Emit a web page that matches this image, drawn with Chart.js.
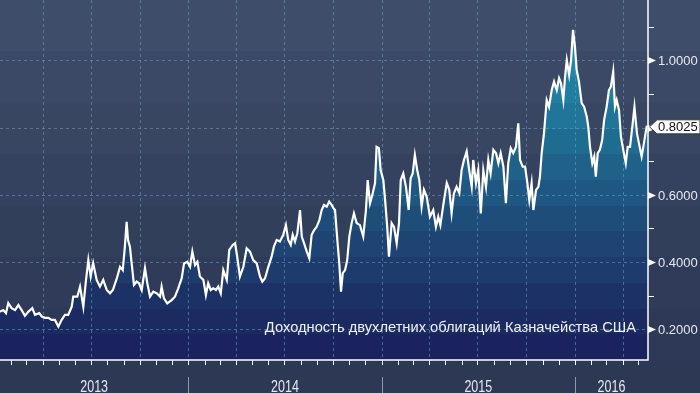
<!DOCTYPE html>
<html>
<head>
<meta charset="utf-8">
<script src="https://cdn.jsdelivr.net/npm/chart.js@4.4.1/dist/chart.umd.min.js"></script>
<style>
html, body { margin: 0; padding: 0; background: #2c3854; }
#wrap { position: relative; width: 700px; height: 393px; }
</style>
</head>
<body>
<div id="wrap"><canvas id="chart"></canvas></div>
<script>
// dates as decimal years, yields in %
const dates = [
  2013.026, 2013.043, 2013.057, 2013.069, 2013.086, 2013.104, 2013.121, 2013.138, 2013.155, 2013.172,
  2013.193, 2013.207, 2013.229, 2013.242, 2013.259, 2013.276, 2013.293, 2013.310, 2013.328, 2013.345,
  2013.362, 2013.379, 2013.397, 2013.405, 2013.426, 2013.440, 2013.457, 2013.471, 2013.483, 2013.495,
  2013.508, 2013.526, 2013.543, 2013.560, 2013.578, 2013.595, 2013.610, 2013.631, 2013.647, 2013.661,
  2013.672, 2013.681, 2013.688, 2013.698, 2013.707, 2013.719, 2013.733, 2013.745, 2013.759, 2013.776,
  2013.788, 2013.802, 2013.819, 2013.837, 2013.854, 2013.862, 2013.874, 2013.891, 2013.914, 2013.931,
  2013.948, 2013.966, 2013.978, 2013.995, 2014.009, 2014.021, 2014.035, 2014.047, 2014.060, 2014.078,
  2014.091, 2014.103, 2014.116, 2014.129, 2014.143, 2014.155, 2014.168, 2014.181, 2014.199, 2014.212,
  2014.230, 2014.242, 2014.253, 2014.267, 2014.285, 2014.302, 2014.319, 2014.336, 2014.354, 2014.371,
  2014.383, 2014.397, 2014.414, 2014.431, 2014.443, 2014.457, 2014.474, 2014.491, 2014.505, 2014.517,
  2014.530, 2014.540, 2014.552, 2014.564, 2014.578, 2014.587, 2014.599, 2014.613, 2014.626, 2014.638,
  2014.652, 2014.664, 2014.678, 2014.690, 2014.702, 2014.716, 2014.729, 2014.742, 2014.750, 2014.759,
  2014.771, 2014.781, 2014.790, 2014.799, 2014.811, 2014.822, 2014.833, 2014.845, 2014.857, 2014.871,
  2014.888, 2014.905, 2014.919, 2014.928, 2014.940, 2014.952, 2014.966, 2014.974, 2014.986, 2014.995,
  2015.009, 2015.018, 2015.029, 2015.038, 2015.052, 2015.064, 2015.078, 2015.090, 2015.099, 2015.112,
  2015.126, 2015.140, 2015.150, 2015.161, 2015.172, 2015.184, 2015.195, 2015.207, 2015.219, 2015.233,
  2015.250, 2015.267, 2015.281, 2015.293, 2015.304, 2015.323, 2015.337, 2015.350, 2015.362, 2015.374,
  2015.388, 2015.402, 2015.414, 2015.426, 2015.440, 2015.453, 2015.466, 2015.474, 2015.488, 2015.500,
  2015.513, 2015.526, 2015.540, 2015.552, 2015.564, 2015.578, 2015.592, 2015.604, 2015.616, 2015.630,
  2015.643, 2015.655, 2015.668, 2015.681, 2015.695, 2015.707, 2015.716, 2015.730, 2015.742, 2015.754,
  2015.764, 2015.776, 2015.785, 2015.799, 2015.811, 2015.819, 2015.828, 2015.840, 2015.854, 2015.866,
  2015.880, 2015.892, 2015.906, 2015.918, 2015.928, 2015.940, 2015.949, 2015.958, 2015.970, 2015.980,
  2015.990, 2016.000, 2016.009, 2016.021, 2016.035, 2016.048, 2016.061, 2016.069, 2016.078, 2016.090,
  2016.100, 2016.108, 2016.118, 2016.129, 2016.141, 2016.151, 2016.164, 2016.176, 2016.186, 2016.198,
  2016.207, 2016.216, 2016.228, 2016.238, 2016.250, 2016.263, 2016.273, 2016.285, 2016.297, 2016.308,
  2016.321, 2016.331, 2016.345, 2016.357, 2016.371, 2016.378
];
const yields = [
  0.252, 0.257, 0.248, 0.278, 0.263, 0.257, 0.272, 0.257, 0.240, 0.252,
  0.263, 0.243, 0.248, 0.238, 0.234, 0.234, 0.228, 0.228, 0.208, 0.228,
  0.243, 0.243, 0.267, 0.297, 0.297, 0.327, 0.267, 0.347, 0.406, 0.357,
  0.397, 0.347, 0.327, 0.347, 0.317, 0.307, 0.317, 0.353, 0.386, 0.376,
  0.446, 0.520, 0.466, 0.446, 0.396, 0.332, 0.342, 0.337, 0.317, 0.382,
  0.337, 0.297, 0.312, 0.307, 0.297, 0.327, 0.292, 0.277, 0.287, 0.297,
  0.322, 0.352, 0.396, 0.401, 0.386, 0.431, 0.391, 0.401, 0.357, 0.347,
  0.302, 0.337, 0.317, 0.322, 0.317, 0.327, 0.307, 0.376, 0.347, 0.436,
  0.451, 0.456, 0.416, 0.357, 0.386, 0.441, 0.431, 0.406, 0.396, 0.357,
  0.342, 0.352, 0.386, 0.416, 0.446, 0.466, 0.461, 0.481, 0.510, 0.466,
  0.451, 0.481, 0.461, 0.486, 0.555, 0.476, 0.456, 0.431, 0.411, 0.481,
  0.496, 0.505, 0.525, 0.555, 0.570, 0.565, 0.580, 0.570, 0.561, 0.555,
  0.466, 0.396, 0.312, 0.367, 0.376, 0.406, 0.476, 0.516, 0.545, 0.516,
  0.510, 0.476, 0.555, 0.644, 0.575, 0.600, 0.635, 0.743, 0.739, 0.674,
  0.644, 0.585, 0.505, 0.416, 0.516, 0.505, 0.456, 0.516, 0.644, 0.664,
  0.624, 0.555, 0.649, 0.664, 0.719, 0.674, 0.644, 0.565, 0.615, 0.595,
  0.535, 0.555, 0.505, 0.535, 0.510, 0.585, 0.635, 0.615, 0.545, 0.605,
  0.624, 0.605, 0.674, 0.704, 0.729, 0.674, 0.624, 0.704, 0.635, 0.674,
  0.545, 0.674, 0.624, 0.704, 0.664, 0.734, 0.724, 0.694, 0.724, 0.684,
  0.575, 0.694, 0.739, 0.724, 0.743, 0.813, 0.704, 0.684, 0.684, 0.635,
  0.585, 0.635, 0.555, 0.615, 0.624, 0.654, 0.724, 0.783, 0.882, 0.862,
  0.912, 0.937, 0.912, 0.947, 0.932, 0.882, 0.952, 1.001, 0.957, 1.001,
  1.091, 1.041, 0.972, 0.937, 0.873, 0.862, 0.833, 0.803, 0.743, 0.694,
  0.714, 0.654, 0.724, 0.734, 0.763, 0.823, 0.862, 0.912, 0.922, 0.967,
  0.862, 0.882, 0.853, 0.773, 0.734, 0.694, 0.743, 0.743, 0.803, 0.862,
  0.783, 0.754, 0.714, 0.754, 0.803, 0.8025
];
const yTicks = [0.2, 0.3, 0.4, 0.5, 0.6, 0.7, 0.8, 0.9, 1.0, 1.1];
const yLabels = ['0.2000', '', '0.4000', '', '0.6000', '', '0.8000', '', '1.0000', ''];
const years = ['2013', '2014', '2015', '2016'];
const yearStarts = [2013, 2014, 2015, 2016, 2017];
const quarterDays = [0, 90, 181, 273];
const monthDays = [0, 31, 59, 90, 120, 151, 181, 212, 243, 273, 304, 334];
const seriesTitle = 'Доходность двухлетних облигаций Казначейства США';
const lastLabel = '0.8025';

// styles
const FONT = "'Liberation Sans', Arial, sans-serif";
const bgBands = ['#3e4d69', '#3b4966', '#384662', '#35425f', '#323f5b', '#2f3b58', '#2d3956'];
const fillBands = ['#2395b0', '#2290ad', '#2188a7', '#207fa0', '#207598', '#1f6c91', '#1f6189',
                   '#1e5782', '#1e4d7a', '#1d4473', '#1d3b6c', '#1c3267', '#1c2a62', '#1b235e'];
const gridColor = 'rgba(105,160,190,0.55)';

function bandGradient(ctx, area, colors) {
  const g = ctx.createLinearGradient(0, area.top, 0, area.bottom);
  const n = colors.length;
  colors.forEach((c, i) => {
    g.addColorStop(i / n, c);
    g.addColorStop(Math.min(1, (i + 1) / n - 0.0001), c);
  });
  return g;
}

const points = dates.map((d, i) => ({ x: d, y: yields[i] }));

const decor = {
  id: 'decor',
  beforeDraw(chart) {
    const { ctx, chartArea: a, width, height } = chart;
    ctx.save();
    const h = (a.bottom - a.top) / bgBands.length;
    bgBands.forEach((c, i) => {
      ctx.fillStyle = c;
      ctx.fillRect(0, a.top + i * h, width, h + 1);
    });
    ctx.fillStyle = '#2c3854';
    ctx.fillRect(0, a.bottom, width, height - a.bottom);
    ctx.restore();
  },
  afterDatasetDraw(chart, args) {
    if (args.index !== 0) return;
    const { ctx, chartArea: a, scales: { x, y } } = chart;
    ctx.save();
    ctx.strokeStyle = gridColor;
    ctx.lineWidth = 1;
    ctx.setLineDash([3, 3]);
    yTicks.forEach((v, i) => {
      if (!yLabels[i]) return;
      const py = Math.round(y.getPixelForValue(v)) + 0.5;
      ctx.beginPath(); ctx.moveTo(a.left, py); ctx.lineTo(a.right, py); ctx.stroke();
    });
    yearStarts.forEach(yr => {
      quarterDays.forEach(d => {
        const v = yr + d / 365;
        if (v <= x.min || v >= x.max) return;
        const px = Math.round(x.getPixelForValue(v)) + 0.5;
        ctx.beginPath(); ctx.moveTo(px, a.top); ctx.lineTo(px, a.bottom); ctx.stroke();
      });
    });
    ctx.restore();
  },
  afterDraw(chart) {
    const { ctx, chartArea: a, scales: { x, y }, width } = chart;
    ctx.save();
    // axis lines
    ctx.strokeStyle = '#ffffff';
    ctx.lineWidth = 1.5;
    ctx.beginPath();
    ctx.moveTo(a.right, a.top); ctx.lineTo(a.right, a.bottom + 0.75);
    ctx.moveTo(a.left, a.bottom); ctx.lineTo(a.right, a.bottom);
    ctx.stroke();

    // month ticks
    ctx.lineWidth = 1;
    yearStarts.forEach(yr => {
      monthDays.forEach(d => {
        const v = yr + d / 365;
        if (v <= x.min || v >= x.max) return;
        const px = Math.round(x.getPixelForValue(v)) + 0.5;
        ctx.beginPath(); ctx.moveTo(px, a.bottom); ctx.lineTo(px, a.bottom + 5); ctx.stroke();
      });
    });

    // y ticks and labels
    ctx.fillStyle = '#ffffff';
    ctx.font = '13px ' + FONT;
    ctx.textBaseline = 'middle';
    ctx.textAlign = 'left';
    yTicks.forEach((v, i) => {
      const py = Math.round(y.getPixelForValue(v)) + 0.5;
      if (yLabels[i]) {
        ctx.beginPath();
        ctx.moveTo(a.right, py - 3.5); ctx.lineTo(a.right + 8, py); ctx.lineTo(a.right, py + 3.5);
        ctx.closePath(); ctx.fill();
        ctx.fillStyle = '#e6e9ef';
        ctx.fillText(yLabels[i], a.right + 10, py + 1);
        ctx.fillStyle = '#ffffff';
      } else {
        ctx.beginPath(); ctx.moveTo(a.right, py); ctx.lineTo(a.right + 6, py); ctx.stroke();
      }
    });

    // year separators and labels
    ctx.strokeStyle = '#8e96a8';
    ctx.lineWidth = 1;
    yearStarts.forEach(v => {
      if (v <= x.min || v >= x.max) return;
      const px = Math.round(x.getPixelForValue(v)) + 0.5;
      ctx.beginPath(); ctx.moveTo(px, a.bottom + 17); ctx.lineTo(px, chart.height); ctx.stroke();
    });
    ctx.fillStyle = '#e6e9ef';
    ctx.font = '16px ' + FONT;
    ctx.textAlign = 'center';
    ctx.textBaseline = 'alphabetic';
    years.forEach((lab, i) => {
      const s = Math.max(yearStarts[i], x.min), e = Math.min(yearStarts[i + 1], x.max);
      const cx = (x.getPixelForValue(s) + x.getPixelForValue(e)) / 2;
      ctx.save();
      ctx.translate(cx, a.bottom + 32);
      ctx.scale(0.78, 1);
      ctx.fillText(lab, 0, 0);
      ctx.restore();
    });

    // series title
    ctx.font = '14.7px ' + FONT;
    ctx.textAlign = 'right';
    ctx.fillStyle = '#eef0f4';
    ctx.fillText(seriesTitle, a.right - 12, y.getPixelForValue(0.2) + 3);

    // last value marker
    const ly = y.getPixelForValue(yields[yields.length - 1]);
    ctx.beginPath();
    ctx.moveTo(a.right + 1.5, ly);
    ctx.lineTo(a.right + 9, ly - 7);
    ctx.lineTo(width, ly - 7);
    ctx.lineTo(width, ly + 7);
    ctx.lineTo(a.right + 9, ly + 7);
    ctx.closePath();
    ctx.fillStyle = '#ffffff';
    ctx.fill();
    ctx.strokeStyle = '#3a3a3a';
    ctx.lineWidth = 1;
    ctx.stroke();
    ctx.fillStyle = '#111111';
    ctx.font = '13px ' + FONT;
    ctx.textAlign = 'left';
    ctx.textBaseline = 'middle';
    ctx.fillText(lastLabel, a.right + 10, ly + 1);
    ctx.restore();
  }
};

new Chart(document.getElementById('chart'), {
  type: 'line',
  data: {
    datasets: [
      {
        data: points,
        borderWidth: 0,
        pointRadius: 0,
        fill: 'start',
        order: 2,
        backgroundColor: (c) => {
          const a = c.chart.chartArea;
          if (!a) return fillBands[6];
          return bandGradient(c.chart.ctx, a, fillBands);
        }
      },
      {
        data: points,
        borderColor: '#ffffff',
        borderWidth: 2.2,
        pointRadius: 0,
        fill: false,
        tension: 0,
        order: 1
      }
    ]
  },
  options: {
    responsive: true,
    maintainAspectRatio: false,
    animation: false,
    layout: { padding: 0 },
    plugins: { legend: { display: false }, tooltip: { enabled: false } },
    scales: {
      x: {
        type: 'linear',
        min: 2013.026,
        max: 2016.378,
        grid: { display: false, drawTicks: false },
        border: { display: false },
        ticks: { display: false },
        afterFit: (s) => { s.height = 33; }
      },
      y: {
        type: 'linear',
        position: 'right',
        min: 0.1086,
        max: 1.18,
        grid: { display: false, drawTicks: false },
        border: { display: false },
        ticks: { display: false },
        afterFit: (s) => { s.width = 52; }
      }
    }
  },
  plugins: [decor]
});
</script>
</body>
</html>
